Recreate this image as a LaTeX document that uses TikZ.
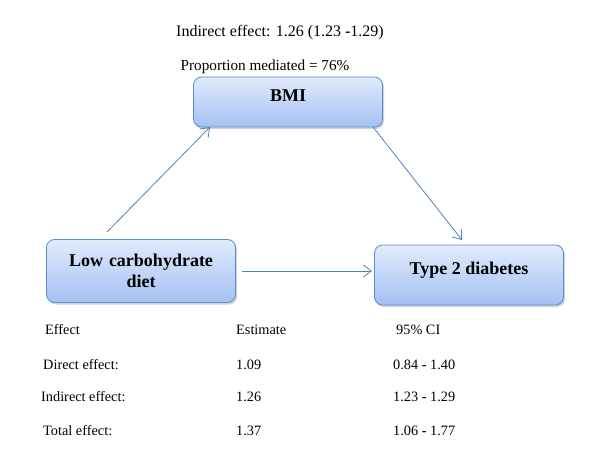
\documentclass[tikz,border=0pt]{standalone}
\usepackage{fontspec}
\setmainfont{Liberation Serif}
\usetikzlibrary{arrows.meta,shadows}
\definecolor{boxline}{HTML}{5B8BD0}
\definecolor{boxtop}{HTML}{E2EBFB}
\definecolor{boxbottom}{HTML}{A3C1F4}
\definecolor{arrowblue}{HTML}{4F81BD}
\tikzset{
  varbox/.style={draw=boxline, line width=0.8pt, rounded corners=8pt,
    top color=boxtop, bottom color=boxbottom, minimum width=189pt,
    align=center, font=\fontsize{18}{21}\selectfont\bfseries,
    drop shadow={shadow xshift=1.5pt, shadow yshift=-2pt, opacity=0.35}},
  tabtext/.style={anchor=west, font=\fontsize{14.3}{16}\selectfont, inner sep=0pt}
}
\begin{document}
\begin{tikzpicture}[x=1pt, y=-1pt, >={Straight Barb[length=8pt, width=12pt]}]
  \useasboundingbox (0, 0) rectangle (605, 452);

  \node[font=\fontsize{16}{18}\selectfont] (ind) at (280, 33) {Indirect effect: 1.26 (1.23 \textbf{-}1.29)};
  \node[font=\fontsize{15.2}{17}\selectfont] (prop) at (265, 67) {Proportion mediated = 76\%};

  \node[varbox, minimum height=50pt, text depth=12pt] (bmi) at (288, 102) {BMI};
  \node[varbox, minimum height=63pt, text width=170pt] (lcd) at (141, 271) {Low carbohydrate\\diet};
  \node[varbox, minimum height=60pt, text depth=14pt] (t2d) at (469, 275) {Type 2 diabetes};

  \coordinate (a1) at (107, 232);
  \coordinate (a2) at (210, 127);
  \coordinate (b1) at (373, 127);
  \coordinate (b2) at (462, 240);
  \coordinate (c1) at (242, 271);
  \coordinate (c2) at (372, 271);
  \draw [->, arrowblue, line width=0.8pt] (a1) to (a2);
  \draw [->, arrowblue, line width=0.8pt] (b1) to (b2);
  \draw [->, arrowblue, line width=0.8pt] (c1) to (c2);

  % table of effects
  \node[tabtext] (h1) at (45, 330) {Effect};
  \node[tabtext] (h2) at (236, 330) {Estimate};
  \node[tabtext] (h3) at (396, 330) {95\% CI};
  \node[tabtext] (r1) at (43, 365) {Direct effect:};
  \node[tabtext] (r1e) at (236, 365) {1.09};
  \node[tabtext] (r1c) at (393, 365) {0.84 \textbf{-} 1.40};
  \node[tabtext] (r2) at (41, 397) {Indirect effect:};
  \node[tabtext] (r2e) at (236, 397) {1.26};
  \node[tabtext] (r2c) at (393, 397) {1.23 \textbf{-} 1.29};
  \node[tabtext] (r3) at (43, 431) {Total effect:};
  \node[tabtext] (r3e) at (236, 431) {1.37};
  \node[tabtext] (r3c) at (393, 431) {1.06 \textbf{-} 1.77};

\end{tikzpicture}
\end{document}
